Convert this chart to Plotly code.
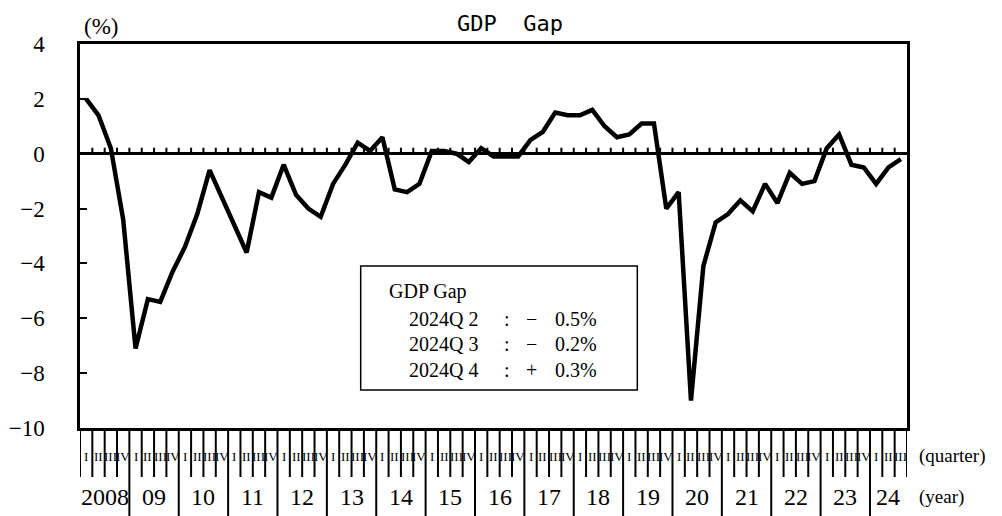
import plotly.graph_objects as go

# ---- data ----
gap = [2.0, 1.4, 0.2, -2.4, -7.1, -5.3, -5.4, -4.3, -3.4, -2.2,
       -0.6, -1.6, -2.6, -3.6, -1.4, -1.6, -0.4, -1.5, -2.0, -2.3,
       -1.1, -0.4, 0.4, 0.1, 0.6, -1.3, -1.4, -1.1, 0.1, 0.1,
       0.0, -0.3, 0.2, -0.1, -0.1, -0.1, 0.5, 0.8, 1.5, 1.4,
       1.4, 1.6, 1.0, 0.6, 0.7, 1.1, 1.1, -2.0, -1.4, -9.0,
       -4.1, -2.5, -2.2, -1.7, -2.1, -1.1, -1.8, -0.7, -1.1, -1.0,
       0.2, 0.7, -0.4, -0.5, -1.1, -0.5, -0.2]
year_labels = ["2008", "09", "10", "11", "12", "13", "14", "15", "16",
               "17", "18", "19", "20", "21", "22", "23", "24"]
quarter_labels = ["I", "II", "III", "IV"]
y_ticks = [4, 2, 0, -2, -4, -6, -8, -10]
box_title = "GDP Gap"
box_rows = [("2024Q 2", "−", "0.5%"), ("2024Q 3", "−", "0.2%"), ("2024Q 4", "+", "0.3%")]

n = len(gap)
xs = [i + 0.5 for i in range(n)]

SERIF = "Liberation Serif"
fig = go.Figure()
fig.add_trace(go.Scatter(x=xs, y=gap, mode="lines",
                         line=dict(color="black", width=4.5),
                         hoverinfo="skip", showlegend=False))

shapes = []
annotations = []

# quarter boundary ticks (bottom) and on zero line
for b in range(0, n + 1):
    is_year = (b % 4 == 0) and 0 < b < n
    shapes.append(dict(type="line", xref="x", yref="paper", ysizemode="pixel",
                       yanchor=0, x0=b, x1=b, y0=0, y1=-88 if is_year else -49,
                       line=dict(color="black", width=2)))
    if 0 < b < n:
        shapes.append(dict(type="line", xref="x", yref="y", ysizemode="pixel",
                           yanchor=0, x0=b, x1=b, y0=0, y1=6,
                           line=dict(color="black", width=2)))

# quarter labels
for i in range(n):
    annotations.append(dict(x=i + 0.5, y=-0.073, xref="x", yref="paper",
                            text=quarter_labels[i % 4], showarrow=False,
                            xanchor="center", yanchor="middle",
                            font=dict(family=SERIF, size=13, color="black")))
# year labels
for k, lab in enumerate(year_labels):
    start = 4 * k
    end = min(4 * k + 4, n)
    annotations.append(dict(x=(start + end) / 2, y=-0.18, xref="x", yref="paper",
                            text=lab, showarrow=False, xanchor="center", yanchor="middle",
                            font=dict(family=SERIF, size=24, color="black")))

annotations.append(dict(x=1.012, y=-0.073, xref="paper", yref="paper", text="(quarter)",
                        showarrow=False, xanchor="left", yanchor="middle",
                        font=dict(family=SERIF, size=19, color="black")))
annotations.append(dict(x=1.012, y=-0.18, xref="paper", yref="paper", text="(year)",
                        showarrow=False, xanchor="left", yanchor="middle",
                        font=dict(family=SERIF, size=19, color="black")))
annotations.append(dict(x=0.002, y=1.045, xref="paper", yref="paper", text="(%)",
                        showarrow=False, xanchor="left", yanchor="middle",
                        font=dict(family=SERIF, size=23, color="black")))
annotations.append(dict(x=0.52, y=1.09, xref="paper", yref="paper", text="GDP  Gap",
                        showarrow=False, xanchor="center", yanchor="top",
                        font=dict(family="DejaVu Sans Mono", size=22, color="black")))

# info box
shapes.append(dict(type="rect", xref="paper", yref="paper", x0=0.3394, x1=0.6739,
                   y0=0.099, y1=0.4219, line=dict(color="black", width=1.5),
                   fillcolor="white", layer="below"))
annotations.append(dict(x=0.371, y=0.355, xref="paper", yref="paper", text=box_title,
                        showarrow=False, xanchor="left", yanchor="middle",
                        font=dict(family=SERIF, size=20, color="black")))
row_y = [0.285, 0.220, 0.152]
for (lab, sign, val), yy in zip(box_rows, row_y):
    annotations.append(dict(x=0.396, y=yy, xref="paper", yref="paper", text=lab,
                            showarrow=False, xanchor="left", yanchor="middle",
                            font=dict(family=SERIF, size=20, color="black")))
    annotations.append(dict(x=0.516, y=yy, xref="paper", yref="paper", text=":",
                            showarrow=False, xanchor="center", yanchor="middle",
                            font=dict(family=SERIF, size=20, color="black")))
    annotations.append(dict(x=0.546, y=yy, xref="paper", yref="paper", text=sign,
                            showarrow=False, xanchor="center", yanchor="middle",
                            font=dict(family=SERIF, size=20, color="black")))
    annotations.append(dict(x=0.627, y=yy, xref="paper", yref="paper", text=val,
                            showarrow=False, xanchor="right", yanchor="middle",
                            font=dict(family=SERIF, size=20, color="black")))

# page body has an 8px margin: shrink canvas and shift margins so the plot area
# lands at the same window pixels as the reference
fig.update_layout(
    width=994, height=508,
    margin=dict(l=72, r=95, t=36, b=88, pad=0, autoexpand=False),
    plot_bgcolor="white", paper_bgcolor="white",
    shapes=shapes, annotations=annotations,
    xaxis=dict(range=[0, n], showgrid=False, zeroline=False, showticklabels=False,
               ticks="", showline=True, mirror=True, linecolor="black", linewidth=2.5,
               fixedrange=True, automargin=False),
    yaxis=dict(range=[-10, 4], tickvals=y_ticks, showgrid=False, zeroline=True,
               zerolinecolor="black", zerolinewidth=2.5, ticks="inside", ticklen=7,
               tickwidth=2, tickcolor="black", showline=True, mirror=True,
               linecolor="black", linewidth=2.5, ticklabelstandoff=28, automargin=False,
               tickfont=dict(family=SERIF, size=23, color="black"), fixedrange=True),
)

fig.write_html("out.html")
